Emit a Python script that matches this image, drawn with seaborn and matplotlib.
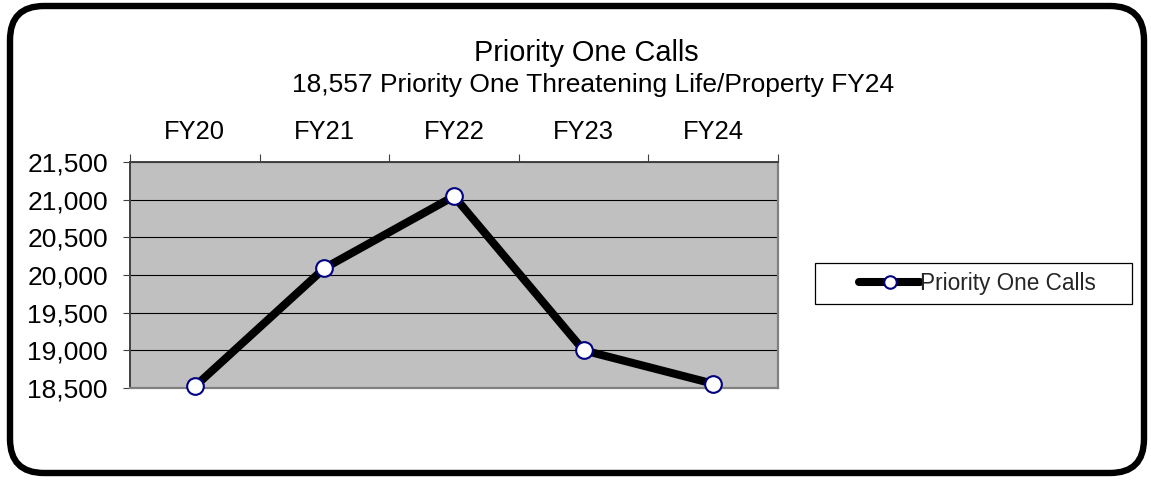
import matplotlib
matplotlib.use("Agg")
import matplotlib.pyplot as plt
import matplotlib.ticker as mticker
from matplotlib.patches import FancyBboxPatch, Rectangle
from matplotlib.transforms import IdentityTransform
from matplotlib.lines import Line2D
import seaborn as sns
import pandas as pd

years = ["FY20", "FY21", "FY22", "FY23", "FY24"]
calls = [18520, 20090, 21045, 19000, 18557]
series_name = "Priority One Calls"
title = "Priority One Calls"
subtitle = "18,557 Priority One Threatening Life/Property FY24"
y_ticks = [18500, 19000, 19500, 20000, 20500, 21000, 21500]

sns.set_theme(style="white")
plt.rcParams["font.family"] = ["Liberation Sans", "DejaVu Sans"]

W, H = 1151, 480
fig = plt.figure(figsize=(W / 100, H / 100), dpi=100)
fig.patch.set_facecolor("white")

def fx(px):
    return px / W

def fy(py):
    return 1 - py / H

ax = fig.add_axes([fx(130), fy(388), fx(778) - fx(130), fy(162) - fy(388)])
ax.set_facecolor("#C0C0C0")

df = pd.DataFrame({"Fiscal Year": years, "Calls": calls})
sns.lineplot(data=df, x="Fiscal Year", y="Calls", ax=ax, sort=False,
             color="black", linewidth=5.8, marker="o", markersize=12,
             markerfacecolor="white", markeredgecolor="#000080",
             markeredgewidth=1.5, legend=False, zorder=5)
for ln in ax.lines:
    ln.set_clip_on(False)

ax.set_xlim(-0.5, len(years) - 0.5)
ax.set_ylim(y_ticks[0], y_ticks[-1])
ax.set_xlabel("")
ax.set_ylabel("")

# y axis
ax.set_yticks(y_ticks)
ax.yaxis.set_major_formatter(mticker.FuncFormatter(lambda v, p: f"{int(v):,}"))
ax.tick_params(axis="y", which="major", left=True, length=5, width=0.8,
               color="#404040", pad=11, labelsize=19, labelcolor="black")
ax.yaxis.grid(True, color="black", linewidth=0.8)
ax.xaxis.grid(False)
ax.set_axisbelow(True)

# x axis on top
ax.xaxis.tick_top()
ax.set_xticks(range(len(years)))
ax.set_xticklabels(years)
ax.set_xticks([i - 0.5 for i in range(len(years) + 1)], minor=True)
ax.tick_params(axis="x", which="major", top=True, bottom=False, length=0,
               pad=13, labelsize=18.4, labelcolor="black")
ax.tick_params(axis="x", which="minor", top=True, bottom=False, length=6,
               width=0.8, color="#404040")

for side in ["top", "left"]:
    ax.spines[side].set_color("#404040")
    ax.spines[side].set_linewidth(1.4)
for side in ["right", "bottom"]:
    ax.spines[side].set_color("#808080")
    ax.spines[side].set_linewidth(1.6)
for s in ax.spines.values():
    s.set_visible(True)

# titles
fig.text(fx(586), fy(61), title, ha="center", va="baseline", fontsize=20.8, color="black")
fig.text(fx(593), fy(92), subtitle, ha="center", va="baseline", fontsize=19, color="black")

# legend box
fig.patches.append(Rectangle((fx(815), fy(304)), fx(1132) - fx(815), fy(263) - fy(304),
                             transform=fig.transFigure, facecolor="white",
                             edgecolor="black", linewidth=0.9, zorder=1))
handle = Line2D([], [], color="black", linewidth=5.8, marker="o", markersize=9,
                markerfacecolor="white", markeredgecolor="#000080", markeredgewidth=1.5)
leg = fig.legend([handle], [series_name], loc="center left",
                 bbox_to_anchor=(fx(859), fy(283.5)), bbox_transform=fig.transFigure,
                 frameon=False, fontsize=16.3, handlelength=2.7, handletextpad=0.0,
                 borderpad=0.0, borderaxespad=0.0)
leg.set_zorder(3)

# rounded outer frame
fig.patches.append(FancyBboxPatch((10, 7), 1134, 467,
                                  boxstyle="round,pad=0,rounding_size=34",
                                  transform=IdentityTransform(), facecolor="none",
                                  edgecolor="black", linewidth=4.6, zorder=10))

fig.savefig("out.png", dpi=100)
